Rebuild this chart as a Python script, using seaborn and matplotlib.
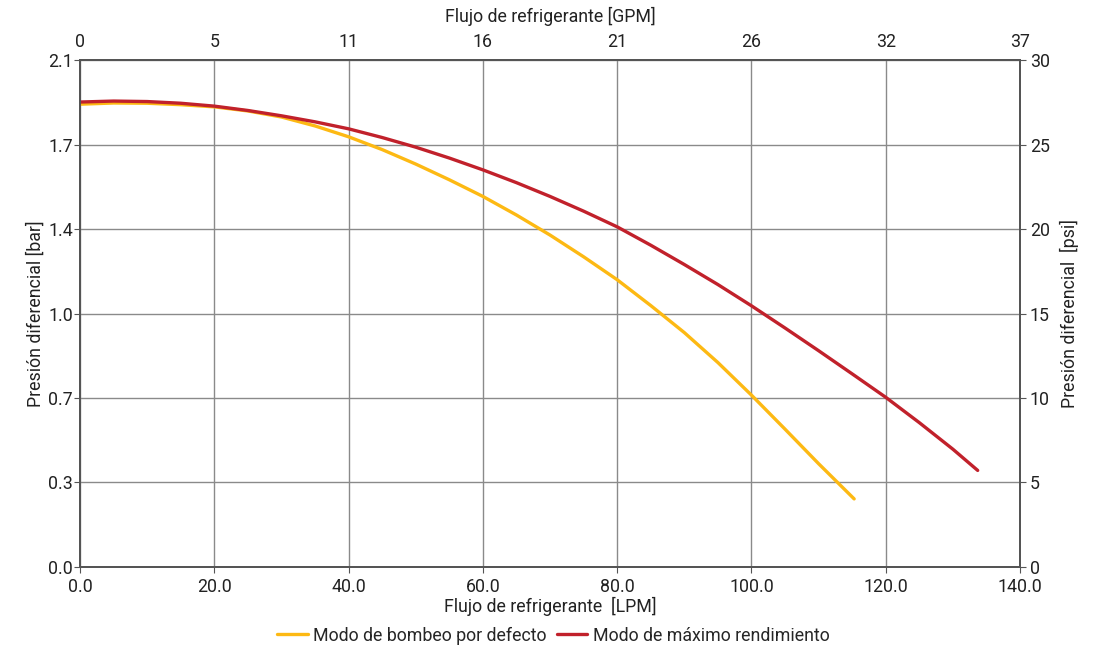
import numpy as np
import pandas as pd
import matplotlib
matplotlib.use("Agg")
import matplotlib.pyplot as plt
import seaborn as sns

# Data
lpm_default = [0, 5, 10, 15, 20, 25, 30, 35, 40, 45, 50, 55, 60, 65, 70, 75, 80, 85, 90, 95, 100, 105, 110, 115.3]
bar_default = [1.917, 1.922, 1.921, 1.915, 1.906, 1.889, 1.864, 1.827, 1.782, 1.729, 1.669, 1.604, 1.535,
               1.458, 1.375, 1.285, 1.190, 1.083, 0.971, 0.847, 0.712, 0.571, 0.428, 0.282]

lpm_max = [0, 5, 10, 15, 20, 25, 30, 35, 40, 45, 50, 55, 60, 65, 70, 75, 80, 85, 90, 95, 100, 105, 110, 115,
           120, 125, 130, 133.7]
bar_max = [1.926, 1.930, 1.928, 1.921, 1.909, 1.891, 1.869, 1.844, 1.815, 1.779, 1.739, 1.694, 1.645, 1.592,
           1.535, 1.474, 1.409, 1.333, 1.253, 1.170, 1.082, 0.990, 0.896, 0.800, 0.703, 0.598, 0.488, 0.400]

series_names = ["Modo de bombeo por defecto", "Modo de máximo rendimiento"]
series_colors = ["#FDB913", "#C1212B"]

x_ticks = [0, 20, 40, 60, 80, 100, 120, 140]
x_tick_labels = ["0.0", "20.0", "40.0", "60.0", "80.0", "100.0", "120.0", "140.0"]
gpm_tick_labels = ["0", "5", "11", "16", "21", "26", "32", "37"]
y_ticks = [0, 0.35, 0.70, 1.05, 1.40, 1.75, 2.10]
y_tick_labels = ["0.0", "0.3", "0.7", "1.0", "1.4", "1.7", "2.1"]
psi_tick_labels = ["0", "5", "10", "15", "20", "25", "30"]

df = pd.concat([
    pd.DataFrame({"LPM": lpm_default, "bar": bar_default, "serie": series_names[0]}),
    pd.DataFrame({"LPM": lpm_max, "bar": bar_max, "serie": series_names[1]}),
])

sns.set_style("white")
plt.rcParams["font.family"] = ["Roboto", "DejaVu Sans"]
FS = 12.8
plt.rcParams["font.size"] = FS

fig = plt.figure(figsize=(11.07, 6.56), dpi=100)
ax = fig.add_axes([0.0723, 0.1357, 0.8491, 0.7728])

sns.lineplot(data=df, x="LPM", y="bar", hue="serie", palette=dict(zip(series_names, series_colors)),
             linewidth=2.4, ax=ax, sort=False, legend=True, zorder=3)
for ln in ax.lines:
    ln.set_solid_capstyle("round")
    ln.set_solid_joinstyle("round")

ax.set_xlim(0, 140)
ax.set_ylim(0, 2.1)
ax.set_xticks(x_ticks)
ax.set_xticklabels(x_tick_labels)
ax.set_yticks(y_ticks)
ax.set_yticklabels(y_tick_labels)
ax.grid(True, color="#8a8a8a", linewidth=1.0, zorder=0)
ax.tick_params(axis="y", length=4, color="#555555", labelsize=FS, labelcolor="#222222", pad=1)
ax.tick_params(axis="x", length=4, color="#555555", labelsize=FS, labelcolor="#222222", pad=4)
for s in ax.spines.values():
    s.set_color("#555555")
    s.set_linewidth(1.3)
ax.set_xlabel("Flujo de refrigerante  [LPM]", fontsize=FS, color="#222222", labelpad=0.5)
ax.set_ylabel("Presión diferencial [bar]", fontsize=FS, color="#222222", labelpad=2.5)

# top axis (GPM)
axt = ax.twiny()
axt.set_xlim(ax.get_xlim())
axt.set_xticks(x_ticks)
axt.set_xticklabels(gpm_tick_labels)
axt.tick_params(axis="x", length=0, labelsize=FS, labelcolor="#222222", pad=6.3)
axt.set_xlabel("Flujo de refrigerante [GPM]", fontsize=FS, color="#222222", labelpad=7.8)

# right axis (psi)
axr = ax.twinx()
axr.set_ylim(ax.get_ylim())
axr.set_yticks(y_ticks)
axr.set_yticklabels(psi_tick_labels)
axr.tick_params(axis="y", length=4, color="#555555", labelsize=FS, labelcolor="#222222", pad=3)
axr.set_ylabel("Presión diferencial  [psi]", fontsize=FS, color="#222222", labelpad=7)
for a in (axt, axr):
    for s in a.spines.values():
        s.set_color("#555555")
        s.set_linewidth(1.3)

leg = ax.get_legend()
handles, labels = ax.get_legend_handles_labels()
leg.remove()
fig.legend(handles, labels, loc="center", bbox_to_anchor=(0.5, 0.031), ncol=2, frameon=False,
           fontsize=FS, handlelength=1.7, handletextpad=0.3, columnspacing=0.6)

fig.savefig("out.png", dpi=100)
